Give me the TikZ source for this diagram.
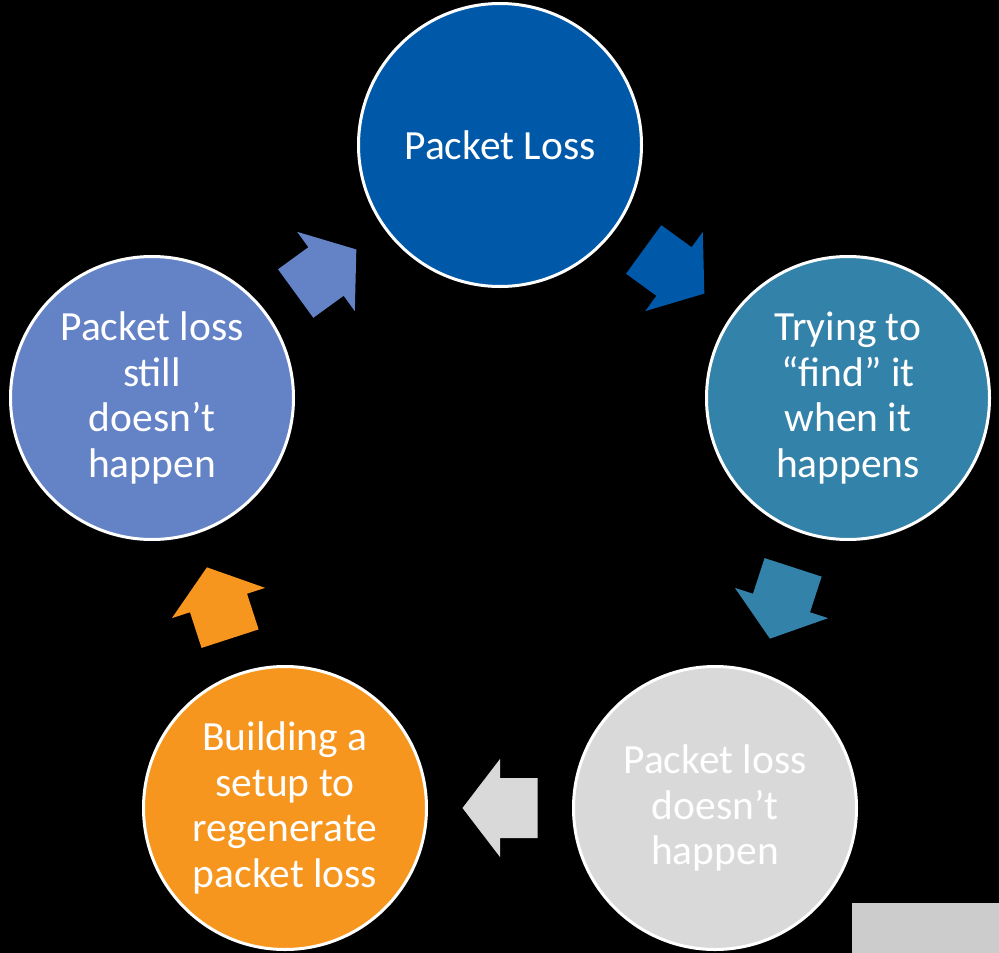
\documentclass[tikz,border=0pt]{standalone}
\usepackage{fontspec}
\setmainfont{Carlito}
\usetikzlibrary{calc}
\definecolor{c1}{HTML}{0058A8}
\definecolor{c2}{HTML}{3382A9}
\definecolor{c3}{HTML}{D9D9D9}
\definecolor{c4}{HTML}{F7961E}
\definecolor{c5}{HTML}{6482C6}
\definecolor{boxgray}{HTML}{CCCCCC}
\tikzset{
  cyc/.style={circle, draw=white, line width=3pt, minimum size=283pt, inner sep=0pt,
    text=white, font=\fontsize{41.5}{45.5}\selectfont, align=center},
  blockarrow/.pic={\path[pic actions] (-37.5,-30) -- (0,-30) -- (0,-49) -- (37.5,0)
    -- (0,49) -- (0,30) -- (-37.5,30) -- cycle;}
}
\begin{document}
\begin{tikzpicture}[x=1pt,y=-1pt]
\fill[black] (0,0) rectangle (999,953);
\node[cyc,fill=c1] (top) at (500,145) {Packet Loss};
\node[cyc,fill=c2] (right) at (848,398) {Trying to\\“find” it\\when it\\happens};
\node[cyc,fill=c3] (bright) at (715,808) {Packet loss\\doesn’t\\happen};
\node[cyc,fill=c4] (bleft) at (285,808) {Building a\\setup to\\regenerate\\packet loss};
\node[cyc,fill=c5] (left) at (152,398) {Packet loss\\still\\doesn’t\\happen};
\coordinate (m1) at ($(top.center)!0.5!(right.center)$);
\coordinate (m2) at ($(right.center)!0.5!(bright.center)$);
\coordinate (m3) at ($(bright.center)!0.5!(bleft.center)$);
\coordinate (m4) at ($(bleft.center)!0.5!(left.center)$);
\coordinate (m5) at ($(left.center)!0.5!(top.center)$);
\pic[fill=c1, rotate=-36] at (m1) {blockarrow};
\pic[fill=c2, rotate=-108] at (m2) {blockarrow};
\pic[fill=c3, rotate=180] at (m3) {blockarrow};
\pic[fill=c4, rotate=108] at (m4) {blockarrow};
\pic[fill=c5, rotate=36] at (m5) {blockarrow};
\fill[boxgray] (852,903) rectangle (999,953);
\end{tikzpicture}
\end{document}
